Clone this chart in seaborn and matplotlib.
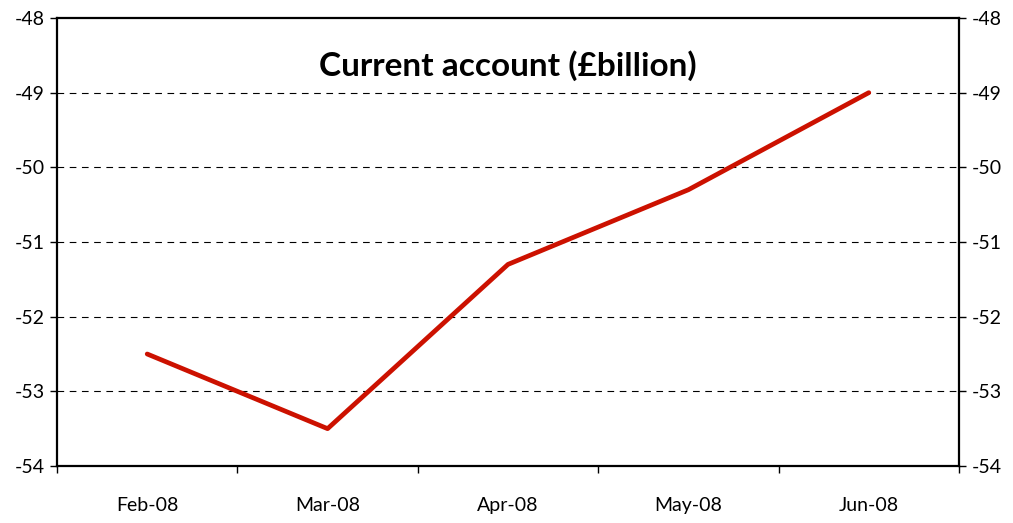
import matplotlib
matplotlib.use("Agg")
import matplotlib.pyplot as plt
import seaborn as sns
import pandas as pd
from matplotlib.ticker import FixedLocator

months = ["Feb-08", "Mar-08", "Apr-08", "May-08", "Jun-08"]
values = [-52.5, -53.5, -51.3, -50.3, -49.0]
yticks = [-54, -53, -52, -51, -50, -49, -48]
title = "Current account (£billion)"

sns.set_theme(style="white")
plt.rcParams['font.family'] = ['Lato', 'DejaVu Sans']
plt.rcParams['text.color'] = 'black'
plt.rcParams['xtick.color'] = 'black'
plt.rcParams['ytick.color'] = 'black'

df = pd.DataFrame({"pos": range(len(months)), "value": values})

fig = plt.figure(figsize=(10.13, 5.23), dpi=100)
ax = fig.add_axes([57/1013, 1 - 466/523, (959-57)/1013, (466-18)/523])

sns.lineplot(data=df, x="pos", y="value", ax=ax, color="#CC1100", linewidth=3.4)

ax.set_xlim(-0.5, len(months) - 0.5)
ax.set_ylim(-54, -48)
ax.set_xticks(range(len(months)))
ax.set_xticklabels(months, fontsize=14, color="black")
ax.xaxis.set_minor_locator(FixedLocator([i - 0.5 for i in range(len(months) + 1)]))
ax.tick_params(axis="x", which="major", length=0, pad=22)
ax.tick_params(axis="x", which="minor", length=5, width=1, color="black", direction="out", bottom=True)
ax.set_yticks(yticks)
ax.set_yticklabels([str(v) for v in yticks], fontsize=14, color="black")
ax.tick_params(axis="y", which="major", length=5, width=1, color="black", direction="out",
               left=True, right=True, labelleft=True, labelright=True, pad=4,
               labelcolor="black")
ax.set_xlabel("")
ax.set_ylabel("")

for v in yticks[1:-1]:
    ax.axhline(v, color="black", linestyle=(0, (6, 5)), linewidth=0.8, zorder=0)

for s in ax.spines.values():
    s.set_visible(True)
    s.set_color("black")
    s.set_linewidth(1.6)

ax.text(0.5, 0.893, title, transform=ax.transAxes, ha="center", va="center",
        fontsize=24, fontweight="bold", color="black")

fig.savefig("out.png", dpi=100)
